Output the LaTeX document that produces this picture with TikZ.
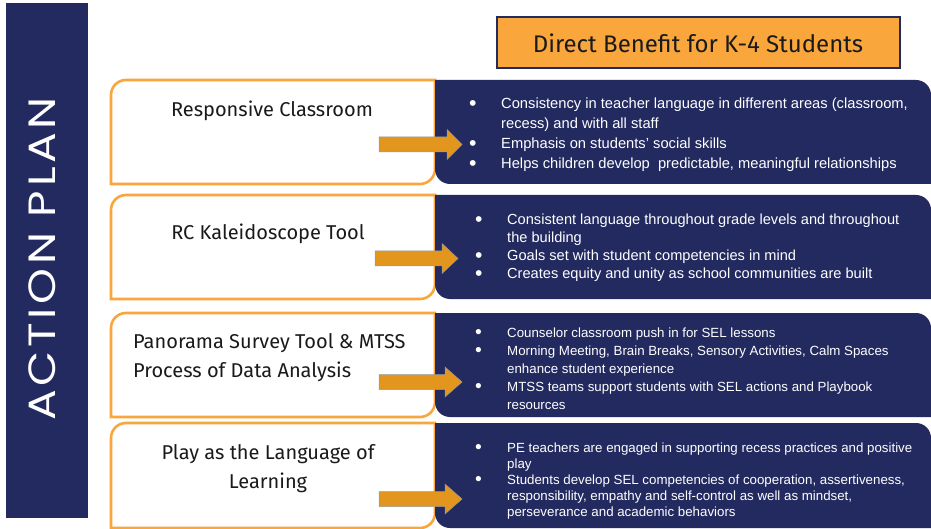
\documentclass[tikz,border=0pt]{standalone}
\usepackage{fontspec}
\setmainfont{Liberation Sans}
\newfontfamily\titlefont{Fira Sans}
\newfontfamily\bannerfont[LetterSpace=8]{Poppins}
\definecolor{navy}{HTML}{222A60}
\definecolor{oline}{HTML}{F9A63C}
\definecolor{arrowfill}{HTML}{E2961E}
\definecolor{titletext}{HTML}{1A1A1A}
\newcommand{\bigbul}{\raisebox{-0.14em}{\scalebox{1.45}{•}}}
\begin{document}
\begin{tikzpicture}[x=1pt,y=-1pt,
  obox/.style={draw=oline,line width=2.6pt,fill=white},
  nbox/.style={fill=navy},
  barrow/.style={fill=arrowfill,draw=gray!80,line width=0.5pt},
  ttl/.style={font=\titlefont\fontsize{20}{29}\selectfont,text=titletext,inner sep=0pt},
  bul/.style={text=white,inner sep=0pt,anchor=base west}]
\useasboundingbox (0,0) rectangle (931,529);
\fill[white] (0,0) rectangle (931,529);
% banner
\fill[navy] (6,3) rectangle (88,518);
\node[rotate=90,text=white,font=\bannerfont\fontsize{38}{40}\selectfont,inner sep=0pt] (banner) at (42,259) {\scalebox{1.2}[1]{ACTION PLAN}};
% header
\node[draw=navy,line width=2pt,fill=oline,minimum width=403pt,minimum height=51pt,inner sep=0pt,
  font=\titlefont\fontsize{24}{26}\selectfont,text=titletext] (header) at (698,43) {Direct Benefit for K-4 Students};
% rows: orange boxes (left) and navy boxes (right)
\foreach \T/\B in {80/184,195/299,313/417,423/528}{
  \draw[obox] (111,\T+15) arc[start angle=180,end angle=270,radius=15] -- (435,\T) -- (435,\B-15)
     arc[start angle=0,end angle=90,radius=15] -- (111,\B) -- cycle;
  \fill[nbox] (435,\T) -- (916,\T) arc[start angle=270,end angle=360,radius=15] -- (931,\B) -- (450,\B)
     arc[start angle=90,end angle=180,radius=15] -- cycle;
}
% arrows
\foreach \L/\H/\X/\C in {379/447/462/144.5,375/442/458/258.5,379/445/462/382,379/445/462/499}{
  \draw[barrow] (\L,\C-7.5) -- (\H,\C-7.5) -- (\H,\C-15) -- (\X,\C) -- (\H,\C+15) -- (\H,\C+7.5) -- (\L,\C+7.5) -- cycle;
}
% titles
\node[ttl] (t1) at (272,111) {Responsive Classroom};
\node[ttl] (t2) at (268,234) {RC Kaleidoscope Tool};
\node[ttl,align=left,anchor=west] (t3) at (133,357.5) {Panorama Survey Tool \& MTSS\\Process of Data Analysis};
\node[ttl,align=center] (t4) at (268,469) {Play as the Language of\\Learning};
% bullets
\node[bul,font=\fontsize{14.7}{20}\selectfont] (b1) at (469,108.5) {\begin{tabular}[t]{@{}p{32pt}@{}l@{}}
\bigbul&Consistency in teacher language in different areas (classroom,\\
&recess) and with all staff\\
\bigbul&Emphasis on students’ social skills\\
\bigbul&Helps children develop\ \ predictable, meaningful relationships
\end{tabular}};
\node[bul,font=\fontsize{14.6}{18}\selectfont] (b2) at (475,224.5) {\begin{tabular}[t]{@{}p{32pt}@{}l@{}}
\bigbul&Consistent language throughout grade levels and throughout\\
&the building\\
\bigbul&Goals set with student competencies in mind\\
\bigbul&Creates equity and unity as school communities are built
\end{tabular}};
\node[bul,font=\fontsize{13.3}{18}\selectfont] (b3) at (475,337) {\begin{tabular}[t]{@{}p{32pt}@{}l@{}}
\bigbul&Counselor classroom push in for SEL lessons\\
\bigbul&Morning Meeting, Brain Breaks, Sensory Activities, Calm Spaces\\
&enhance student experience\\
\bigbul&MTSS teams support students with SEL actions and Playbook\\
&resources
\end{tabular}};
\node[bul,font=\fontsize{13.3}{16}\selectfont] (b4) at (475,452) {\begin{tabular}[t]{@{}p{32pt}@{}l@{}}
\bigbul&PE teachers are engaged in supporting recess practices and positive\\
&play\\
\bigbul&Students develop SEL competencies of cooperation, assertiveness,\\
&responsibility, empathy and self-control as well as mindset,\\
&perseverance and academic behaviors
\end{tabular}};
\end{tikzpicture}
\end{document}
